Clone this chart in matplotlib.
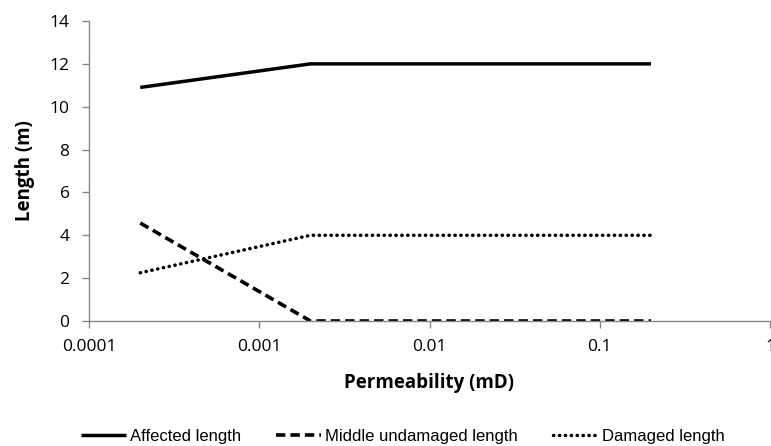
import matplotlib.pyplot as plt

# permeability values (mD) and lengths (m)
permeability = [0.0002, 0.002, 0.02, 0.2]
affected_length = [10.9, 12.0, 12.0, 12.0]
middle_undamaged = [4.57, 0.0, 0.0, 0.0]
damaged_length = [2.25, 4.0, 4.0, 4.0]

x_ticks = [0.0001, 0.001, 0.01, 0.1, 1]
x_tick_labels = ['0.0001', '0.001', '0.01', '0.1', '1']
y_ticks = [0, 2, 4, 6, 8, 10, 12, 14]

plt.rcParams['font.family'] = ['Open Sans', 'DejaVu Sans']

fig = plt.figure(figsize=(7.71, 4.46), dpi=100)
ax = fig.add_axes([89 / 771, 1 - 321 / 446, (770 - 89) / 771, 300 / 446])

ax.plot(permeability, affected_length, color='black', lw=2.5, solid_capstyle='butt',
        label='Affected length')
ax.plot(permeability, middle_undamaged, color='black', lw=2.6, dashes=(2.6, 1.4),
        label='Middle undamaged length')
ax.plot(permeability, damaged_length, color='black', lw=2.5, dashes=(0.1, 1.6),
        dash_capstyle='round', label='Damaged length')

ax.set_xscale('log')
ax.set_xlim(0.0001, 1)
ax.set_ylim(0, 14)
ax.set_xticks(x_ticks)
ax.set_xticklabels(x_tick_labels)
ax.minorticks_off()
ax.set_yticks(y_ticks)
ax.tick_params(labelsize=12.5, color='#868686', length=5, width=1)
ax.tick_params(axis='y', pad=9)
ax.tick_params(axis='x', pad=8)

for side in ['top', 'right']:
    ax.spines[side].set_visible(False)
for side in ['left', 'bottom']:
    ax.spines[side].set_color('#868686')
    ax.spines[side].set_linewidth(1)

ax.set_xlabel('Permeability (mD)', fontsize=13.5, fontweight='bold', va='center')
ax.set_ylabel('Length (m)', fontsize=13.5, fontweight='bold', va='center')
ax.xaxis.set_label_coords(0.5, (321 - 383) / 300)
ax.yaxis.set_label_coords((25 - 89) / 681, 0.5)

fig.legend(loc='center', bbox_to_anchor=(403 / 771, 1 - 436 / 446), ncol=3, frameon=False,
           handlelength=2.7, handletextpad=0.25, columnspacing=2.1,
           prop={'family': ['Liberation Sans', 'DejaVu Sans'], 'size': 12})

fig.savefig('out.png', dpi=100)
